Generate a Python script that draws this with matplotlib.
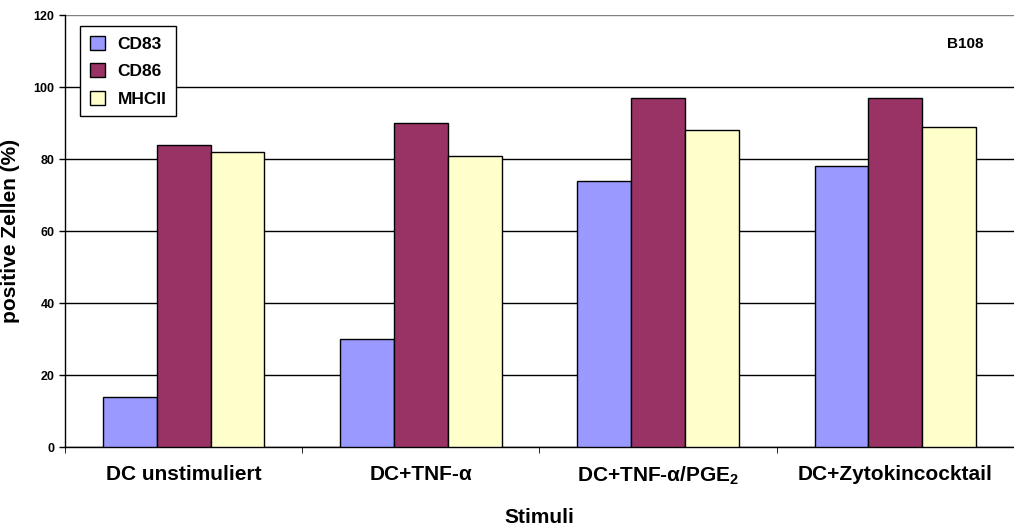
import numpy as np
import matplotlib.pyplot as plt

plt.rcParams['font.family'] = ['Liberation Sans', 'DejaVu Sans']
plt.rcParams['mathtext.fontset'] = 'custom'
plt.rcParams['mathtext.rm'] = 'Liberation Sans:bold'
plt.rcParams['mathtext.default'] = 'rm'

# Daten
stimuli = ["DC unstimuliert", "DC+TNF-α", "DC+TNF-α/PGE$_2$", "DC+Zytokincocktail"]
cd83 = [14, 30, 74, 78]
cd86 = [84, 90, 97, 97]
mhcii = [82, 80.7, 88, 88.8]

serien = [("CD83", cd83, "#9999FF"), ("CD86", cd86, "#993366"), ("MHCII", mhcii, "#FFFFCC")]

fig = plt.figure(figsize=(10.14, 5.29), dpi=100)
ax = fig.add_axes([0.0641, 0.155, 0.9359, 0.8166])

x = np.arange(len(stimuli))
w = 0.227
for i, (name, vals, col) in enumerate(serien):
    ax.bar(x + (i - 1) * w, vals, width=w, color=col, edgecolor="black",
           linewidth=1, label=name, zorder=3)

ax.set_xlim(-0.5, len(stimuli) - 0.5)
ax.set_ylim(0, 120)
ax.set_yticks(np.arange(0, 121, 20))
ax.yaxis.grid(True, color="black", linewidth=1, zorder=0)
ax.set_axisbelow(True)
# oberste Gitterlinie etwas heller
ax.get_ygridlines()[-1].set_color("#808080")

# Kategorienbeschriftung mittig, Teilstriche an den Gruppengrenzen
ax.set_xticks(x)
ax.set_xticklabels(stimuli, fontsize=15, fontweight="bold")
ax.tick_params(axis="x", length=0, pad=13)
ax.set_xticks(np.arange(-0.5, len(stimuli)), minor=True)
ax.tick_params(axis="x", which="minor", length=4, direction="out")
ax.tick_params(axis="y", length=4, direction="out", labelsize=9, width=1)
for lab in ax.get_yticklabels():
    lab.set_fontweight("bold")

for s in ["top", "right"]:
    ax.spines[s].set_visible(False)
ax.spines["left"].set_linewidth(1)
ax.spines["bottom"].set_linewidth(1)

ax.set_ylabel("positive Zellen (%)", fontsize=15, fontweight="bold")
ax.yaxis.set_label_coords(-0.047, 0.5)
ax.set_xlabel("Stimuli", fontsize=15, fontweight="bold")
ax.xaxis.set_label_coords(0.5, -0.142)

leg = ax.legend(loc="upper left", bbox_to_anchor=(0.016, 0.9745), borderaxespad=0,
                fancybox=False, edgecolor="black", framealpha=1,
                prop={"size": 12.5, "weight": "bold"},
                handlelength=0.9, handleheight=0.9, labelspacing=0.65,
                borderpad=0.55, handletextpad=0.7)
leg.get_frame().set_linewidth(1)

ax.text(0.949, 0.933, "B108", transform=ax.transAxes, fontsize=11,
        fontweight="bold", ha="center", va="center")

fig.savefig("out.png", dpi=100)
